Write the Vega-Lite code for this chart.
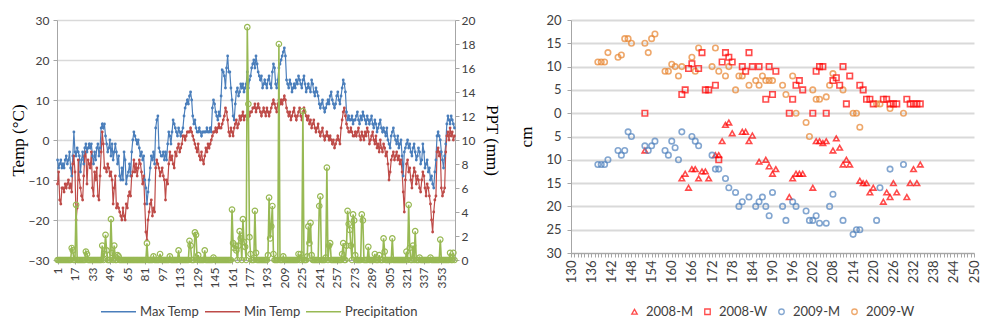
{
"$schema":"https://vega.github.io/schema/vega-lite/v6.json",
"padding":{"left":9,"top":14,"right":5,"bottom":0},
"background":"white",
"spacing":16,
"resolve":{"scale":{"color":"independent","shape":"independent"},"legend":{"color":"independent","shape":"independent"}},
"config":{"view":{"stroke":null},"font":"Lato",
"axis":{"labelFont":"Lato","labelFontSize":12,"labelColor":"#404040","domainColor":"#A6A6A6","tickColor":"#A6A6A6","gridColor":"#D9D9D9","titleFont":"Liberation Serif","titleFontWeight":"normal","titleFontSize":17,"titleColor":"#000000"},
"legend":{"labelFont":"Lato","labelFontSize":13,"labelColor":"#404040"}},
"datasets":{
"wx":[
{"d":1,"mx":-5,"mn":-11,"p":0},{"d":2,"mx":-7,"mn":-8,"p":0},{"d":3,"mx":-6,"mn":-15,"p":0},{"d":4,"mx":-5,"mn":-16,"p":0},{"d":5,"mx":-7,"mn":-12,"p":0},
{"d":6,"mx":-6,"mn":-12,"p":0},{"d":7,"mx":-7,"mn":-13,"p":0},{"d":8,"mx":-5,"mn":-11,"p":0},{"d":9,"mx":-4,"mn":-12,"p":0},{"d":10,"mx":-6,"mn":-11,"p":0},
{"d":11,"mx":-5,"mn":-10,"p":0},{"d":12,"mx":-3,"mn":-12,"p":0},{"d":13,"mx":-7,"mn":-11,"p":0},{"d":14,"mx":-9,"mn":-13,"p":1},{"d":15,"mx":-4,"mn":-6,"p":0.8},
{"d":16,"mx":2,"mn":-4,"p":0},{"d":17,"mx":-3,"mn":-8,"p":0},{"d":18,"mx":-4,"mn":-20,"p":4.6},{"d":19,"mx":-2,"mn":-17,"p":0},{"d":20,"mx":-3,"mn":-5,"p":0},
{"d":21,"mx":-4,"mn":-10,"p":0},{"d":22,"mx":-8,"mn":-12,"p":0},{"d":23,"mx":-5,"mn":-14,"p":0},{"d":24,"mx":-3,"mn":-15,"p":0},{"d":25,"mx":-6,"mn":-9,"p":0},
{"d":26,"mx":-2,"mn":-4,"p":0},{"d":27,"mx":-1,"mn":-3,"p":0.7},{"d":28,"mx":-3,"mn":-11,"p":0.5},{"d":29,"mx":-2,"mn":-5,"p":0},{"d":30,"mx":-1,"mn":-6,"p":0},
{"d":31,"mx":-2,"mn":-7,"p":0},{"d":32,"mx":-1,"mn":-3,"p":0},{"d":33,"mx":-4,"mn":-12,"p":0},{"d":34,"mx":-6,"mn":-14,"p":0},{"d":35,"mx":-3,"mn":-8,"p":0},
{"d":36,"mx":-5,"mn":-10,"p":0},{"d":37,"mx":-2,"mn":-7,"p":0},{"d":38,"mx":-1,"mn":-14,"p":0},{"d":39,"mx":-4,"mn":-15,"p":0},{"d":40,"mx":-2,"mn":-9,"p":0},
{"d":41,"mx":3,"mn":-3,"p":0},{"d":42,"mx":4,"mn":2,"p":1.2},{"d":43,"mx":3,"mn":-1,"p":0},{"d":44,"mx":4,"mn":-7,"p":0.5},{"d":45,"mx":1,"mn":-7,"p":2.1},
{"d":46,"mx":-1,"mn":-8,"p":0.8},{"d":47,"mx":-3,"mn":-6,"p":0},{"d":48,"mx":-2,"mn":-7,"p":0},{"d":49,"mx":0,"mn":-9,"p":0},{"d":50,"mx":-4,"mn":-8,"p":3.4},
{"d":51,"mx":-1,"mn":-10,"p":0.6},{"d":52,"mx":-5,"mn":-16,"p":0},{"d":53,"mx":-3,"mn":-12,"p":1.2},{"d":54,"mx":-1,"mn":-9,"p":0},{"d":55,"mx":-3,"mn":-17,"p":0},
{"d":56,"mx":-6,"mn":-16,"p":0.4},{"d":57,"mx":-4,"mn":-17,"p":0.3},{"d":58,"mx":-9,"mn":-18,"p":0},{"d":59,"mx":-10,"mn":-19,"p":0},{"d":60,"mx":-7,"mn":-20,"p":0},
{"d":61,"mx":-10,"mn":-17,"p":0},{"d":62,"mx":-3,"mn":-19,"p":0},{"d":63,"mx":-5,"mn":-20,"p":0},{"d":64,"mx":-11,"mn":-16,"p":0},{"d":65,"mx":-9,"mn":-17,"p":0},
{"d":66,"mx":-8,"mn":-14,"p":0},{"d":67,"mx":-6,"mn":-13,"p":0},{"d":68,"mx":-9,"mn":-14,"p":0},{"d":69,"mx":-3,"mn":-9,"p":0},{"d":70,"mx":0,"mn":-8,"p":0},
{"d":71,"mx":2,"mn":-5,"p":0},{"d":72,"mx":1,"mn":-8,"p":0},{"d":73,"mx":0,"mn":-6,"p":0},{"d":74,"mx":-1,"mn":-9,"p":0},{"d":75,"mx":0,"mn":-7,"p":0},
{"d":76,"mx":-2,"mn":-5,"p":0},{"d":77,"mx":-4,"mn":-6,"p":0},{"d":78,"mx":-3,"mn":-8,"p":0},{"d":79,"mx":-5,"mn":-11,"p":0},{"d":80,"mx":-4,"mn":-9,"p":0},
{"d":81,"mx":-10,"mn":-16,"p":0},{"d":82,"mx":-12,"mn":-23,"p":0},{"d":83,"mx":-16,"mn":-25,"p":1.4},{"d":84,"mx":-13,"mn":-20,"p":0},{"d":85,"mx":-10,"mn":-18,"p":0},
{"d":86,"mx":-7,"mn":-16,"p":0},{"d":87,"mx":-4,"mn":-15,"p":0},{"d":88,"mx":-5,"mn":-19,"p":0},{"d":89,"mx":-3,"mn":-17,"p":0.3},{"d":90,"mx":-6,"mn":-18,"p":0},
{"d":91,"mx":3,"mn":-7,"p":0},{"d":92,"mx":5,"mn":-5,"p":0},{"d":93,"mx":6,"mn":-6,"p":0},{"d":94,"mx":-2,"mn":-7,"p":0},{"d":95,"mx":-3,"mn":-9,"p":0.5},
{"d":96,"mx":-4,"mn":-8,"p":0},{"d":97,"mx":-4,"mn":-7,"p":0},{"d":98,"mx":-3,"mn":-9,"p":0},{"d":99,"mx":-5,"mn":-10,"p":0},{"d":100,"mx":-3,"mn":-15,"p":0},
{"d":101,"mx":-5,"mn":-10,"p":0},{"d":102,"mx":-1,"mn":-11,"p":0},{"d":103,"mx":2,"mn":-6,"p":0},{"d":104,"mx":1,"mn":-3,"p":0.3},{"d":105,"mx":-1,"mn":-5,"p":0},
{"d":106,"mx":2,"mn":-4,"p":0},{"d":107,"mx":5,"mn":-6,"p":0},{"d":108,"mx":4,"mn":-7,"p":0},{"d":109,"mx":3,"mn":-3,"p":0},{"d":110,"mx":2,"mn":-4,"p":0},
{"d":111,"mx":1,"mn":-2,"p":0},{"d":112,"mx":3,"mn":-1,"p":0.8},{"d":113,"mx":2,"mn":-3,"p":0},{"d":114,"mx":1,"mn":-2,"p":0},{"d":115,"mx":2,"mn":-1,"p":0},
{"d":116,"mx":3,"mn":1,"p":0},{"d":117,"mx":6,"mn":1,"p":0},{"d":118,"mx":8,"mn":0,"p":0},{"d":119,"mx":9,"mn":1,"p":0},{"d":120,"mx":10,"mn":2,"p":0},
{"d":121,"mx":9,"mn":2,"p":0},{"d":122,"mx":11,"mn":2,"p":1.6},{"d":123,"mx":12,"mn":3,"p":1.2},{"d":124,"mx":10,"mn":2,"p":0},{"d":125,"mx":6,"mn":1,"p":0},
{"d":126,"mx":4,"mn":0,"p":0},{"d":127,"mx":5,"mn":-1,"p":2.3},{"d":128,"mx":3,"mn":-2,"p":2.1},{"d":129,"mx":2,"mn":-3,"p":0},{"d":130,"mx":2,"mn":-1,"p":0.4},
{"d":131,"mx":3,"mn":-4,"p":0},{"d":132,"mx":2,"mn":-5,"p":0},{"d":133,"mx":1,"mn":-3,"p":0},{"d":134,"mx":2,"mn":-5,"p":0},{"d":135,"mx":2,"mn":-6,"p":0},
{"d":136,"mx":2,"mn":-4,"p":0.8},{"d":137,"mx":2,"mn":-2,"p":0},{"d":138,"mx":3,"mn":-3,"p":0},{"d":139,"mx":2,"mn":-1,"p":0},{"d":140,"mx":2,"mn":-2,"p":0},
{"d":141,"mx":3,"mn":-1,"p":0},{"d":142,"mx":2,"mn":0,"p":0},{"d":143,"mx":8,"mn":1,"p":0},{"d":144,"mx":10,"mn":2,"p":0.2},{"d":145,"mx":9,"mn":2,"p":0},
{"d":146,"mx":7,"mn":3,"p":0},{"d":147,"mx":6,"mn":2,"p":0},{"d":148,"mx":5,"mn":3,"p":0},{"d":149,"mx":7,"mn":4,"p":0},{"d":150,"mx":6,"mn":3,"p":0},
{"d":151,"mx":11,"mn":3,"p":0},{"d":152,"mx":17.5,"mn":4,"p":0},{"d":153,"mx":17,"mn":5,"p":0},{"d":154,"mx":16,"mn":6,"p":0},{"d":155,"mx":13,"mn":8,"p":0},
{"d":156,"mx":18,"mn":7,"p":0},{"d":157,"mx":21,"mn":5,"p":0},{"d":158,"mx":17,"mn":2,"p":0},{"d":159,"mx":17,"mn":1,"p":0},{"d":160,"mx":13,"mn":3,"p":0},
{"d":161,"mx":10,"mn":2,"p":4.2},{"d":162,"mx":6,"mn":1,"p":1.4},{"d":163,"mx":5,"mn":3,"p":1},{"d":164,"mx":9,"mn":4,"p":1.2},{"d":165,"mx":12,"mn":5,"p":0.8},
{"d":166,"mx":13,"mn":3,"p":0},{"d":167,"mx":11,"mn":4,"p":1.2},{"d":168,"mx":12,"mn":6,"p":2.4},{"d":169,"mx":14,"mn":5,"p":1.8},{"d":170,"mx":13,"mn":6,"p":0},
{"d":171,"mx":14,"mn":7,"p":3.4},{"d":172,"mx":12,"mn":5,"p":1.5},{"d":173,"mx":13,"mn":6,"p":1.1},{"d":174,"mx":14,"mn":6,"p":0},{"d":175,"mx":17,"mn":5,"p":19.4},
{"d":176,"mx":13,"mn":7,"p":13},{"d":177,"mx":15,"mn":6,"p":1.9},{"d":178,"mx":16,"mn":7,"p":0.5},{"d":179,"mx":18,"mn":7,"p":0},{"d":180,"mx":19,"mn":8,"p":0},
{"d":181,"mx":20,"mn":8,"p":0},{"d":182,"mx":18,"mn":9,"p":4.1},{"d":183,"mx":21,"mn":7,"p":0.6},{"d":184,"mx":19,"mn":8,"p":0},{"d":185,"mx":17,"mn":9,"p":0},
{"d":186,"mx":16,"mn":8,"p":0},{"d":187,"mx":15,"mn":7,"p":0},{"d":188,"mx":16,"mn":6,"p":0},{"d":189,"mx":13,"mn":7,"p":0},{"d":190,"mx":14,"mn":8,"p":0},
{"d":191,"mx":15,"mn":7,"p":0},{"d":192,"mx":14,"mn":6,"p":0},{"d":193,"mx":13,"mn":8,"p":0},{"d":194,"mx":15,"mn":7,"p":0.4},{"d":195,"mx":16,"mn":6,"p":5.2},
{"d":196,"mx":14,"mn":7,"p":1.8},{"d":197,"mx":13,"mn":8,"p":2.8},{"d":198,"mx":17,"mn":9,"p":4.5},{"d":199,"mx":19,"mn":10,"p":0.5},{"d":200,"mx":18,"mn":9,"p":0},
{"d":201,"mx":14,"mn":8,"p":0},{"d":202,"mx":13,"mn":7,"p":0},{"d":203,"mx":15,"mn":9,"p":0},{"d":204,"mx":18,"mn":10,"p":18},{"d":205,"mx":19,"mn":9,"p":0},
{"d":206,"mx":20,"mn":10,"p":0},{"d":207,"mx":21,"mn":9,"p":0},{"d":208,"mx":22,"mn":10,"p":0.3},{"d":209,"mx":23,"mn":11,"p":0},{"d":210,"mx":21,"mn":10,"p":0},
{"d":211,"mx":15,"mn":8,"p":0},{"d":212,"mx":14,"mn":7,"p":0},{"d":213,"mx":13,"mn":6,"p":0},{"d":214,"mx":15,"mn":7,"p":0},{"d":215,"mx":14,"mn":5,"p":0},
{"d":216,"mx":12,"mn":6,"p":0},{"d":217,"mx":13,"mn":7,"p":0},{"d":218,"mx":14,"mn":8,"p":0},{"d":219,"mx":13,"mn":6,"p":0},{"d":220,"mx":15,"mn":5,"p":0},
{"d":221,"mx":14,"mn":6,"p":0},{"d":222,"mx":16,"mn":7,"p":0.5},{"d":223,"mx":15,"mn":8,"p":0},{"d":224,"mx":14,"mn":6,"p":0.5},{"d":225,"mx":13,"mn":5,"p":0},
{"d":226,"mx":15,"mn":7,"p":12.4},{"d":227,"mx":16,"mn":8,"p":0},{"d":228,"mx":14,"mn":7,"p":0},{"d":229,"mx":12,"mn":6,"p":0},{"d":230,"mx":13,"mn":5,"p":0.3},
{"d":231,"mx":14,"mn":6,"p":2.8},{"d":232,"mx":13,"mn":4,"p":1.4},{"d":233,"mx":12,"mn":5,"p":3.1},{"d":234,"mx":15,"mn":3,"p":0.4},{"d":235,"mx":14,"mn":4,"p":0},
{"d":236,"mx":12,"mn":5,"p":0},{"d":237,"mx":11,"mn":3,"p":0},{"d":238,"mx":13,"mn":2,"p":0},{"d":239,"mx":12,"mn":3,"p":0},{"d":240,"mx":11,"mn":4,"p":0},
{"d":241,"mx":9,"mn":2,"p":4.5},{"d":242,"mx":8,"mn":1,"p":5.3},{"d":243,"mx":9,"mn":2,"p":0},{"d":244,"mx":10,"mn":3,"p":0},{"d":245,"mx":8,"mn":1,"p":0},
{"d":246,"mx":7,"mn":0,"p":0},{"d":247,"mx":8,"mn":1,"p":0.2},{"d":248,"mx":9,"mn":2,"p":7.7},{"d":249,"mx":10,"mn":1,"p":0},{"d":250,"mx":9,"mn":0,"p":1.2},
{"d":251,"mx":11,"mn":1,"p":1.4},{"d":252,"mx":12,"mn":0,"p":0},{"d":253,"mx":10,"mn":-1,"p":0},{"d":254,"mx":9,"mn":0,"p":0},{"d":255,"mx":8,"mn":-2,"p":0},
{"d":256,"mx":9,"mn":-1,"p":0},{"d":257,"mx":11,"mn":0,"p":0},{"d":258,"mx":12,"mn":1,"p":0},{"d":259,"mx":10,"mn":0,"p":0},{"d":260,"mx":9,"mn":-1,"p":0},
{"d":261,"mx":11,"mn":3,"p":0},{"d":262,"mx":13,"mn":5,"p":0.5},{"d":263,"mx":15,"mn":7,"p":1.4},{"d":264,"mx":14,"mn":8,"p":0},{"d":265,"mx":12,"mn":6,"p":0},
{"d":266,"mx":7,"mn":4,"p":1.2},{"d":267,"mx":5,"mn":3,"p":4.1},{"d":268,"mx":6,"mn":2,"p":3},{"d":269,"mx":5,"mn":2,"p":2.5},{"d":270,"mx":5,"mn":3,"p":1.2},
{"d":271,"mx":6,"mn":2,"p":0},{"d":272,"mx":4,"mn":1,"p":3.8},{"d":273,"mx":5,"mn":1,"p":3.3},{"d":274,"mx":5,"mn":2,"p":0.4},{"d":275,"mx":6,"mn":1,"p":0},
{"d":276,"mx":7,"mn":2,"p":0},{"d":277,"mx":5,"mn":3,"p":0},{"d":278,"mx":4,"mn":1,"p":0},{"d":279,"mx":6,"mn":0,"p":0},{"d":280,"mx":5,"mn":2,"p":3.8},
{"d":281,"mx":7,"mn":1,"p":3.3},{"d":282,"mx":6,"mn":0,"p":0},{"d":283,"mx":5,"mn":2,"p":0},{"d":284,"mx":4,"mn":1,"p":0},{"d":285,"mx":6,"mn":3,"p":0},
{"d":286,"mx":5,"mn":2,"p":1.1},{"d":287,"mx":4,"mn":-1,"p":0},{"d":288,"mx":5,"mn":0,"p":0},{"d":289,"mx":6,"mn":1,"p":0},{"d":290,"mx":4,"mn":2,"p":0},
{"d":291,"mx":3,"mn":0,"p":0},{"d":292,"mx":5,"mn":-1,"p":0.5},{"d":293,"mx":4,"mn":1,"p":0},{"d":294,"mx":2,"mn":-2,"p":0},{"d":295,"mx":3,"mn":-1,"p":0},
{"d":296,"mx":4,"mn":-3,"p":0.4},{"d":297,"mx":5,"mn":0,"p":0},{"d":298,"mx":3,"mn":-2,"p":0},{"d":299,"mx":2,"mn":-3,"p":0},{"d":300,"mx":3,"mn":-1,"p":1.8},
{"d":301,"mx":2,"mn":-2,"p":0.7},{"d":302,"mx":1,"mn":-4,"p":0},{"d":303,"mx":3,"mn":-3,"p":0},{"d":304,"mx":0,"mn":-6,"p":0},{"d":305,"mx":-1,"mn":-10,"p":0},
{"d":306,"mx":-2,"mn":-8,"p":0},{"d":307,"mx":1,"mn":-5,"p":0},{"d":308,"mx":2,"mn":-4,"p":1.8},{"d":309,"mx":3,"mn":-3,"p":0},{"d":310,"mx":1,"mn":-5,"p":0},
{"d":311,"mx":0,"mn":-4,"p":0},{"d":312,"mx":-1,"mn":-3,"p":0},{"d":313,"mx":1,"mn":-5,"p":0},{"d":314,"mx":-2,"mn":-4,"p":0},{"d":315,"mx":-1,"mn":-6,"p":0},
{"d":316,"mx":0,"mn":-5,"p":0},{"d":317,"mx":-4,"mn":-8,"p":0},{"d":318,"mx":-9,"mn":-13,"p":0},{"d":319,"mx":-3,"mn":-18,"p":0},{"d":320,"mx":-2,"mn":-10,"p":0},
{"d":321,"mx":-1,"mn":-6,"p":0.7},{"d":322,"mx":0,"mn":-5,"p":0},{"d":323,"mx":-2,"mn":-8,"p":4.6},{"d":324,"mx":-1,"mn":-7,"p":1},{"d":325,"mx":-3,"mn":-10,"p":0},
{"d":326,"mx":-4,"mn":-12,"p":0},{"d":327,"mx":-2,"mn":-9,"p":1.2},{"d":328,"mx":-1,"mn":-7,"p":0},{"d":329,"mx":-3,"mn":-8,"p":2.4},{"d":330,"mx":-5,"mn":-11,"p":0},
{"d":331,"mx":-4,"mn":-9,"p":0},{"d":332,"mx":-2,"mn":-10,"p":0},{"d":333,"mx":-3,"mn":-12,"p":0.2},{"d":334,"mx":-6,"mn":-13,"p":0},{"d":335,"mx":-5,"mn":-10,"p":0},
{"d":336,"mx":-1,"mn":-8,"p":0},{"d":337,"mx":-3,"mn":-9,"p":0},{"d":338,"mx":-7,"mn":-12,"p":0},{"d":339,"mx":-6,"mn":-14,"p":0},{"d":340,"mx":-5,"mn":-11,"p":0},
{"d":341,"mx":-8,"mn":-12,"p":0},{"d":342,"mx":-7,"mn":-14,"p":0},{"d":343,"mx":-10,"mn":-16,"p":0.2},{"d":344,"mx":-9,"mn":-20,"p":0},{"d":345,"mx":-11,"mn":-23,"p":0},
{"d":346,"mx":-12,"mn":-18,"p":0},{"d":347,"mx":-8,"mn":-15,"p":0},{"d":348,"mx":-5,"mn":-14,"p":0},{"d":349,"mx":1,"mn":-3,"p":0},{"d":350,"mx":2,"mn":-2,"p":0},
{"d":351,"mx":1,"mn":-4,"p":0},{"d":352,"mx":0,"mn":-3,"p":1.7},{"d":353,"mx":-3,"mn":-12,"p":0},{"d":354,"mx":-5,"mn":-14,"p":0},{"d":355,"mx":-7,"mn":-13,"p":0},
{"d":356,"mx":-4,"mn":-12,"p":0},{"d":357,"mx":-1,"mn":-3,"p":0},{"d":358,"mx":4,"mn":1,"p":0},{"d":359,"mx":6,"mn":2,"p":0},{"d":360,"mx":5,"mn":0,"p":0},
{"d":361,"mx":4,"mn":3,"p":0.6},{"d":362,"mx":6,"mn":1,"p":0},{"d":363,"mx":5,"mn":2,"p":0},{"d":364,"mx":4,"mn":0,"p":0.6},{"d":365,"mx":3,"mn":1,"p":0}
],
"pts":[
{"s":"2009-W","x":138,"y":11},{"s":"2009-W","x":139,"y":11},{"s":"2009-W","x":140,"y":11},{"s":"2009-W","x":141,"y":13},{"s":"2009-W","x":144,"y":12},{"s":"2009-W","x":145,"y":12.5},{"s":"2009-W","x":146,"y":16},{"s":"2009-W","x":147,"y":16},{"s":"2009-W","x":148,"y":15},{"s":"2009-W","x":152,"y":15},{"s":"2009-W","x":153,"y":13},{"s":"2009-W","x":154,"y":16},{"s":"2009-W","x":155,"y":17},{"s":"2009-W","x":158,"y":9},{"s":"2009-W","x":159,"y":9},{"s":"2009-W","x":160,"y":10.5},{"s":"2009-W","x":161,"y":10},{"s":"2009-W","x":162,"y":8},{"s":"2009-W","x":163,"y":10},{"s":"2009-W","x":166,"y":12},{"s":"2009-W","x":167,"y":9},{"s":"2009-W","x":168,"y":14},{"s":"2009-W","x":172,"y":10},{"s":"2009-W","x":173,"y":14},{"s":"2009-W","x":174,"y":9},{"s":"2009-W","x":176,"y":8},{"s":"2009-W","x":177,"y":10},{"s":"2009-W","x":179,"y":5},{"s":"2009-W","x":180,"y":8},{"s":"2009-W","x":181,"y":8},{"s":"2009-W","x":183,"y":6},{"s":"2009-W","x":185,"y":7},{"s":"2009-W","x":186,"y":6},{"s":"2009-W","x":187,"y":8},{"s":"2009-W","x":188,"y":7},{"s":"2009-W","x":189,"y":7},{"s":"2009-W","x":190,"y":7},{"s":"2009-W","x":193,"y":6},{"s":"2009-W","x":194,"y":4},{"s":"2009-W","x":196,"y":8},{"s":"2009-W","x":197,"y":0},{"s":"2009-W","x":200,"y":-2},{"s":"2009-W","x":201,"y":-5},{"s":"2009-W","x":202,"y":5},{"s":"2009-W","x":203,"y":3},{"s":"2009-W","x":204,"y":3},{"s":"2009-W","x":206,"y":3.5},{"s":"2009-W","x":207,"y":6},{"s":"2009-W","x":208,"y":8.5},{"s":"2009-W","x":211,"y":5},{"s":"2009-W","x":214,"y":0},{"s":"2009-W","x":215,"y":0},{"s":"2009-W","x":216,"y":-3},{"s":"2009-W","x":221,"y":2},{"s":"2009-W","x":222,"y":2},{"s":"2009-W","x":225,"y":1},{"s":"2009-W","x":229,"y":0},
{"s":"2008-W","x":152,"y":0},{"s":"2008-W","x":163,"y":4},{"s":"2008-W","x":164,"y":5},{"s":"2008-W","x":165,"y":9.6},{"s":"2008-W","x":166,"y":10.6},{"s":"2008-W","x":168,"y":9.6},{"s":"2008-W","x":169,"y":13},{"s":"2008-W","x":170,"y":5},{"s":"2008-W","x":171,"y":5},{"s":"2008-W","x":173,"y":6},{"s":"2008-W","x":174,"y":-10},{"s":"2008-W","x":175,"y":11},{"s":"2008-W","x":176,"y":13},{"s":"2008-W","x":177,"y":12},{"s":"2008-W","x":178,"y":11},{"s":"2008-W","x":181,"y":10},{"s":"2008-W","x":182,"y":9},{"s":"2008-W","x":183,"y":13},{"s":"2008-W","x":184,"y":10},{"s":"2008-W","x":186,"y":10},{"s":"2008-W","x":188,"y":3},{"s":"2008-W","x":189,"y":10},{"s":"2008-W","x":190,"y":4},{"s":"2008-W","x":191,"y":9},{"s":"2008-W","x":195,"y":0},{"s":"2008-W","x":196,"y":3},{"s":"2008-W","x":197,"y":6},{"s":"2008-W","x":198,"y":7},{"s":"2008-W","x":199,"y":5},{"s":"2008-W","x":202,"y":0},{"s":"2008-W","x":203,"y":9},{"s":"2008-W","x":204,"y":10},{"s":"2008-W","x":205,"y":10},{"s":"2008-W","x":206,"y":0},{"s":"2008-W","x":208,"y":7},{"s":"2008-W","x":209,"y":7.6},{"s":"2008-W","x":210,"y":6},{"s":"2008-W","x":211,"y":10},{"s":"2008-W","x":212,"y":2},{"s":"2008-W","x":213,"y":8},{"s":"2008-W","x":216,"y":6},{"s":"2008-W","x":217,"y":5},{"s":"2008-W","x":218,"y":3},{"s":"2008-W","x":219,"y":3},{"s":"2008-W","x":220,"y":2},{"s":"2008-W","x":223,"y":3},{"s":"2008-W","x":224,"y":3},{"s":"2008-W","x":225,"y":2},{"s":"2008-W","x":226,"y":2},{"s":"2008-W","x":227,"y":2},{"s":"2008-W","x":230,"y":3},{"s":"2008-W","x":231,"y":2},{"s":"2008-W","x":232,"y":2},{"s":"2008-W","x":233,"y":2},{"s":"2008-W","x":234,"y":2},
{"s":"2008-M","x":152,"y":-8},{"s":"2008-M","x":163,"y":-14},{"s":"2008-M","x":164,"y":-13},{"s":"2008-M","x":165,"y":-16},{"s":"2008-M","x":166,"y":-12},{"s":"2008-M","x":167,"y":-12},{"s":"2008-M","x":168,"y":-14},{"s":"2008-M","x":169,"y":-12.5},{"s":"2008-M","x":170,"y":-12.5},{"s":"2008-M","x":171,"y":-14},{"s":"2008-M","x":173,"y":-9},{"s":"2008-M","x":174,"y":-9},{"s":"2008-M","x":175,"y":-6},{"s":"2008-M","x":176,"y":-2.5},{"s":"2008-M","x":177,"y":-2},{"s":"2008-M","x":178,"y":-4.3},{"s":"2008-M","x":181,"y":-4},{"s":"2008-M","x":182,"y":-4},{"s":"2008-M","x":183,"y":-6},{"s":"2008-M","x":184,"y":-4.8},{"s":"2008-M","x":186,"y":-10.4},{"s":"2008-M","x":188,"y":-10},{"s":"2008-M","x":189,"y":-11.4},{"s":"2008-M","x":190,"y":-13},{"s":"2008-M","x":191,"y":-12},{"s":"2008-M","x":195,"y":-18},{"s":"2008-M","x":196,"y":-14},{"s":"2008-M","x":197,"y":-13},{"s":"2008-M","x":198,"y":-13},{"s":"2008-M","x":199,"y":-13},{"s":"2008-M","x":202,"y":-16},{"s":"2008-M","x":203,"y":-6},{"s":"2008-M","x":204,"y":-6},{"s":"2008-M","x":205,"y":-6.4},{"s":"2008-M","x":206,"y":-6},{"s":"2008-M","x":208,"y":-8},{"s":"2008-M","x":209,"y":-5.4},{"s":"2008-M","x":210,"y":-7.4},{"s":"2008-M","x":211,"y":-11},{"s":"2008-M","x":212,"y":-10},{"s":"2008-M","x":213,"y":-11},{"s":"2008-M","x":216,"y":-14.5},{"s":"2008-M","x":217,"y":-15},{"s":"2008-M","x":218,"y":-15},{"s":"2008-M","x":219,"y":-17},{"s":"2008-M","x":220,"y":-16},{"s":"2008-M","x":223,"y":-19},{"s":"2008-M","x":224,"y":-17},{"s":"2008-M","x":225,"y":-18},{"s":"2008-M","x":226,"y":-15},{"s":"2008-M","x":227,"y":-17},{"s":"2008-M","x":230,"y":-18},{"s":"2008-M","x":231,"y":-15},{"s":"2008-M","x":232,"y":-12},{"s":"2008-M","x":233,"y":-15},{"s":"2008-M","x":234,"y":-11},
{"s":"2009-M","x":138,"y":-11},{"s":"2009-M","x":139,"y":-11},{"s":"2009-M","x":140,"y":-11},{"s":"2009-M","x":141,"y":-10},{"s":"2009-M","x":144,"y":-8},{"s":"2009-M","x":145,"y":-9},{"s":"2009-M","x":146,"y":-8},{"s":"2009-M","x":147,"y":-4},{"s":"2009-M","x":148,"y":-5},{"s":"2009-M","x":152,"y":-7},{"s":"2009-M","x":153,"y":-8},{"s":"2009-M","x":154,"y":-7},{"s":"2009-M","x":155,"y":-6},{"s":"2009-M","x":158,"y":-8},{"s":"2009-M","x":159,"y":-9},{"s":"2009-M","x":160,"y":-6},{"s":"2009-M","x":161,"y":-7.4},{"s":"2009-M","x":162,"y":-10},{"s":"2009-M","x":163,"y":-4},{"s":"2009-M","x":166,"y":-5},{"s":"2009-M","x":167,"y":-6},{"s":"2009-M","x":168,"y":-7},{"s":"2009-M","x":172,"y":-9},{"s":"2009-M","x":173,"y":-12},{"s":"2009-M","x":174,"y":-12},{"s":"2009-M","x":176,"y":-14},{"s":"2009-M","x":177,"y":-16},{"s":"2009-M","x":179,"y":-17},{"s":"2009-M","x":180,"y":-20},{"s":"2009-M","x":181,"y":-19},{"s":"2009-M","x":183,"y":-18},{"s":"2009-M","x":185,"y":-20},{"s":"2009-M","x":186,"y":-19},{"s":"2009-M","x":187,"y":-18},{"s":"2009-M","x":188,"y":-20},{"s":"2009-M","x":189,"y":-22},{"s":"2009-M","x":190,"y":-17},{"s":"2009-M","x":193,"y":-20},{"s":"2009-M","x":194,"y":-23},{"s":"2009-M","x":196,"y":-19},{"s":"2009-M","x":197,"y":-20},{"s":"2009-M","x":200,"y":-21},{"s":"2009-M","x":201,"y":-23},{"s":"2009-M","x":202,"y":-23},{"s":"2009-M","x":203,"y":-22},{"s":"2009-M","x":204,"y":-23.6},{"s":"2009-M","x":206,"y":-23.6},{"s":"2009-M","x":207,"y":-20},{"s":"2009-M","x":208,"y":-17.4},{"s":"2009-M","x":211,"y":-23},{"s":"2009-M","x":214,"y":-26},{"s":"2009-M","x":215,"y":-25},{"s":"2009-M","x":216,"y":-25},{"s":"2009-M","x":221,"y":-23},{"s":"2009-M","x":222,"y":-16},{"s":"2009-M","x":225,"y":-12},{"s":"2009-M","x":229,"y":-11}
]
},
"hconcat":[
{
"width":398,"height":240,
"data":{"name":"wx"},
"layer":[
{"transform":[{"fold":["mx","mn"],"as":["k","v"]}],
"mark":{"type":"line","strokeWidth":1.2,"point":{"filled":true,"size":8}},
"encoding":{
"x":{"field":"d","type":"quantitative","scale":{"domain":[0.5,365.5],"nice":false,"zero":false},
"axis":{"values":[1,17,33,49,65,81,97,113,129,145,161,177,193,209,225,241,257,273,289,305,321,337,353],"labelAngle":-90,"labelOverlap":false,"labelBound":false,"labelFlush":false,"title":null,"grid":false,"tickSize":4,"labelPadding":3}},
"y":{"field":"v","type":"quantitative","scale":{"domain":[-30,30],"nice":false},
"axis":{"values":[-30,-20,-10,0,10,20,30],"title":"Temp (°C)","titleFontWeight":"normal","grid":true,"gridWidth":1.5,"tickSize":4,"labelPadding":4,"titlePadding":1,"labelFontSize":12}},
"color":{"field":"k","type":"nominal","scale":{"domain":["mx","mn","p"],"range":["#4A7EBB","#BE4B48","#98B954"]},
"legend":{"title":null,"orient":"none","legendX":43,"legendY":273,"direction":"horizontal","symbolType":"stroke","symbolSize":1225,"symbolStrokeWidth":1.5,"columnPadding":2,"labelOffset":3,
"labelExpr":"datum.label == 'mx' ? 'Max Temp' : datum.label == 'mn' ? 'Min Temp' : 'Precipitation'"}}
}},
{"transform":[{"fold":["p"],"as":["k","v"]}],
"mark":{"type":"line","strokeWidth":1.6,"point":{"filled":false,"size":30,"strokeWidth":1.2}},
"encoding":{
"x":{"field":"d","type":"quantitative",
"axis":{"values":[1,17,33,49,65,81,97,113,129,145,161,177,193,209,225,241,257,273,289,305,321,337,353],"labelAngle":-90,"labelOverlap":false,"labelBound":false,"labelFlush":false,"title":null,"grid":false,"tickSize":4,"labelPadding":3}},
"y":{"field":"v","type":"quantitative","scale":{"domain":[0,20],"nice":false},
"axis":{"orient":"right","values":[0,2,4,6,8,10,12,14,16,18,20],"title":"PPT (mm)","titleFontWeight":"normal","titleAngle":90,"grid":false,"tickSize":4,"labelPadding":2,"titlePadding":8,"labelFontSize":12}},
"color":{"field":"k","type":"nominal"}
}}
],
"resolve":{"scale":{"y":"independent"}}
},
{
"width":403,"height":233,
"data":{"name":"pts"},
"mark":{"type":"point","filled":false,"strokeWidth":1.6,"size":30},
"encoding":{
"x":{"field":"x","type":"quantitative","scale":{"domain":[130,250],"nice":false,"zero":false},
"axis":{"values":[130,131,132,133,134,135,136,137,138,139,140,141,142,143,144,145,146,147,148,149,150,151,152,153,154,155,156,157,158,159,160,161,162,163,164,165,166,167,168,169,170,171,172,173,174,175,176,177,178,179,180,181,182,183,184,185,186,187,188,189,190,191,192,193,194,195,196,197,198,199,200,201,202,203,204,205,206,207,208,209,210,211,212,213,214,215,216,217,218,219,220,221,222,223,224,225,226,227,228,229,230,231,232,233,234,235,236,237,238,239,240,241,242,243,244,245,246,247,248,249,250],
"labelExpr":"(datum.value - 130) % 6 == 0 ? datum.label : ''","labelOverlap":false,"labelAngle":-90,"title":null,"grid":false,"tickSize":4,"labelPadding":3,"labelFontSize":13}},
"y":{"field":"y","type":"quantitative","scale":{"domain":[-30,20],"nice":false},
"axis":{"values":[-30,-25,-20,-15,-10,-5,0,5,10,15,20],"labelExpr":"'' + abs(datum.value)","title":"cm","titleFontWeight":"normal","grid":true,"gridWidth":2,"tickSize":4,"labelPadding":6,"titlePadding":10,"labelFontSize":13}},
"shape":{"field":"s","type":"nominal","scale":{"domain":["2008-M","2008-W","2009-M","2009-W"],"range":["triangle-up","square","circle","circle"]},
"legend":{"title":null,"orient":"none","legendX":57,"legendY":285,"direction":"horizontal","symbolSize":30,"symbolStrokeWidth":1.3,"columnPadding":7,"labelOffset":5}},
"color":{"field":"s","type":"nominal","scale":{"domain":["2008-M","2008-W","2009-M","2009-W"],"range":["#FF0000","#FF0000","#4F81BD","#E8842E"]},
"legend":{"title":null,"orient":"none","legendX":57,"legendY":285,"direction":"horizontal","symbolSize":30,"symbolStrokeWidth":1.3,"columnPadding":7,"labelOffset":5}}
}
}
]
}
